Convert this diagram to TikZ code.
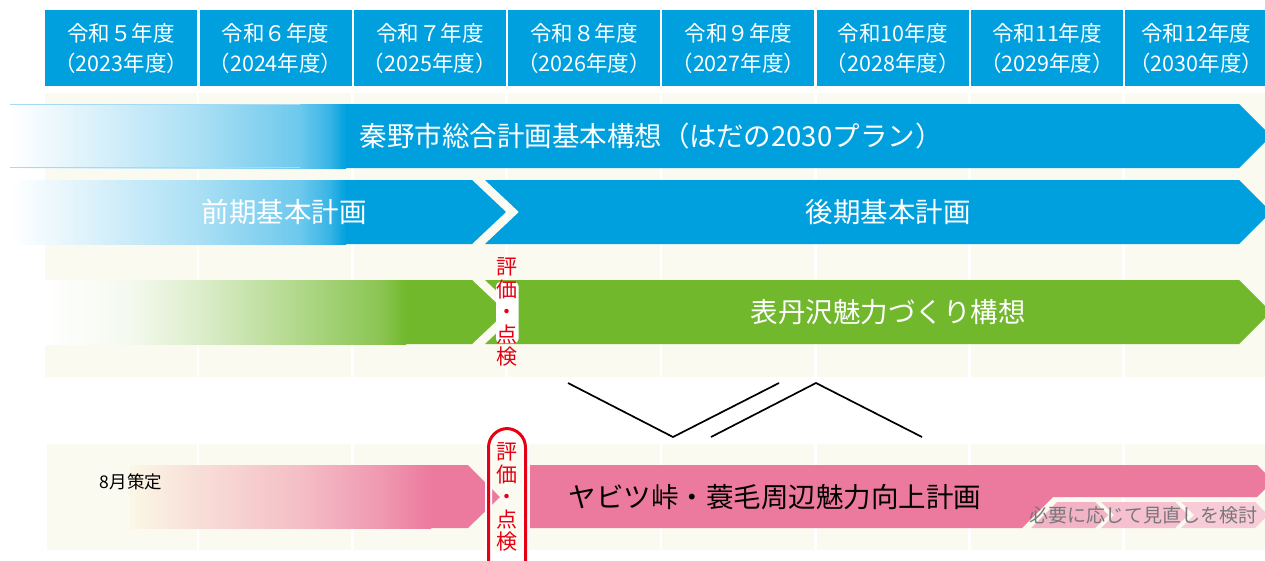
\documentclass[tikz,border=0pt]{standalone}
\usepackage{fontspec}
\setmainfont{Noto Sans CJK JP}
\definecolor{bblue}{HTML}{00A0DF}
\definecolor{lblue}{HTML}{A6D9F2}
\definecolor{ggreen}{HTML}{71B82C}
\definecolor{ppink}{HTML}{EC7A9F}
\definecolor{cream}{HTML}{FAFAF0}
\definecolor{pcream}{HTML}{FBF7E6}
\definecolor{rred}{HTML}{E60012}
\definecolor{segA}{HTML}{F3B3C7}
\definecolor{segB}{HTML}{F6C0D0}
\definecolor{segC}{HTML}{F8CBD8}
\definecolor{gtext}{HTML}{787878}
\pgfdeclarehorizontalshading{blueramp}{100bp}{color(0bp)=(white); color(25bp)=(white); color(32bp)=(bblue!8); color(53bp)=(bblue!33); color(68bp)=(bblue!57); color(72.5bp)=(bblue!78); color(75bp)=(bblue); color(100bp)=(bblue)}
\pgfdeclarehorizontalshading{greenramp}{100bp}{color(0bp)=(white); color(25bp)=(white); color(37bp)=(ggreen!8); color(46.5bp)=(ggreen!25); color(60bp)=(ggreen!55); color(71.5bp)=(ggreen!82); color(75bp)=(ggreen); color(100bp)=(ggreen)}
\pgfdeclarehorizontalshading{pinkramp}{100bp}{color(0bp)=(pcream); color(25bp)=(pcream); color(36.5bp)=(ppink!20!pcream); color(53bp)=(ppink!45!pcream); color(66.5bp)=(ppink!75!pcream); color(75bp)=(ppink); color(100bp)=(ppink)}
\tikzset{
  hdr/.style={fill=bblue, text=white, inner sep=0pt, minimum width=152pt, minimum height=76pt, anchor=north west, align=center, font=\fontsize{21.5}{30}\selectfont},
  bigwhite/.style={text=white, inner sep=0pt, font=\fontsize{27.5}{30}\selectfont},
  bigblack/.style={text=black, inner sep=0pt, font=\fontsize{27.5}{30}\selectfont},
  vlabel/.style={text=rred, inner sep=0pt, align=center, font=\fontsize{21}{22.5}\selectfont},
  smalltext/.style={inner sep=0pt, font=\fontsize{17.5}{20}\selectfont},
  linkline/.style={black, line width=1.7pt},
}
\begin{document}
\begin{tikzpicture}[x=1pt,y=-1pt]
\useasboundingbox (0,0) rectangle (1265,560);
\clip (0,0) rectangle (1265,560);
\fill[white] (0,0) rectangle (1265,560);

% header
\foreach \i/\a/\b in {0/令和５年度/（2023年度）,1/令和６年度/（2024年度）,2/令和７年度/（2025年度）,3/令和８年度/（2026年度）,4/令和９年度/（2027年度）,5/令和10年度/（2028年度）,6/令和11年度/（2029年度）}
  \node[hdr] (h\i) at ({45+154.3*\i},10) {\a\\\b};
\node[hdr, minimum width=142pt] (h7) at ({45+154.3*7},10) {令和12年度\\（2030年度）};

% cream panels
\fill[cream] (45,93) rectangle (1265,377);
\fill[cream] (47,444) rectangle (1265,550);
\foreach \i in {1,...,7} {
  \fill[white] ({45+154.3*\i-2.7},93) rectangle ({45+154.3*\i},377);
  \fill[white] ({45+154.3*\i-2.7},444) rectangle ({45+154.3*\i},550);
}

% row 1
\fill[bblue] (345,104) -- (1239,104) -- (1271,136) -- (1239,168) -- (345,168) -- cycle;
\shade[shading=blueramp] (10,104) rectangle (346,168);
\draw[lblue, line width=1pt] (10,104.5) -- (300,104.5);
\draw[lblue, line width=1pt] (10,167.5) -- (300,167.5);
\node[bigwhite] (plan1) at (651,136) {秦野市総合計画基本構想（はだの2030プラン）};

% row 2
\fill[bblue] (345,180) -- (472,180) -- (506,212) -- (472,244) -- (345,244) -- cycle;
\shade[shading=blueramp] (10,180) rectangle (346,244);
\fill[bblue] (485,180) -- (1239,180) -- (1271,212) -- (1239,244) -- (485,244) -- (519,212) -- cycle;
\node[bigwhite] (zenki) at (284,212) {前期基本計画};
\node[bigwhite] (kouki) at (888,212) {後期基本計画};

% row 3
\fill[ggreen] (405,280) -- (472,280) -- (506,312) -- (472,344) -- (405,344) -- cycle;
\shade[shading=greenramp] (45,280) rectangle (406,344);
\fill[ggreen] (485,280) -- (1239,280) -- (1271,312) -- (1239,344) -- (485,344) -- (519,312) -- cycle;
\node[bigwhite] (omote) at (888,312) {表丹沢魅力づくり構想};
\fill[white, rounded corners=4pt] (496,282) rectangle (518.5,343);
\node[vlabel] (ev1) at (507,312) {評\\価\\・\\点\\検};

% link lines
\coordinate (la1) at (568,383);
\coordinate (la2) at (673,437);
\coordinate (la3) at (779,383);
\coordinate (lb1) at (711,437);
\coordinate (lb2) at (816,383);
\coordinate (lb3) at (922,437);
\draw[linkline] (la1) -- (la2) -- (la3);
\draw[linkline] (lb1) -- (lb2) -- (lb3);

% row 4 (pink)
\fill[ppink] (430,465) -- (468,465) -- (500,497) -- (468,528) -- (430,528) -- cycle;
\shade[shading=pinkramp] (130,465) rectangle (431,528);
\fill[ppink] (530,465) -- (1257,465) -- (1273,481) -- (1257,497) -- (1053,497) -- (1022,528) -- (530,528) -- cycle;
\fill[segA] (1031,528) -- (1057,502) -- (1095,502) -- (1108,515) -- (1095,528) -- cycle;
\fill[segB] (1101,502) -- (1175,502) -- (1188,515) -- (1175,528) -- (1101,528) -- (1114,515) -- cycle;
\fill[segC] (1181,502) -- (1255,502) -- (1268,515) -- (1255,528) -- (1181,528) -- (1194,515) -- cycle;
\node[bigblack] (yabitsu) at (775,497) {ヤビツ峠・蓑毛周辺魅力向上計画};
\node[smalltext, text=black] (aug) at (131,482) {8月策定};
\node[inner sep=0pt, text=gtext, font=\fontsize{19}{20}\selectfont] (rev) at (1143,515) {必要に応じて見直しを検討};

% evaluation box
\draw[white, line width=7pt, rounded corners=19pt] (488.5,428.5) rectangle (525.5,600);
\draw[rred, line width=3pt, rounded corners=19pt] (488.5,428.5) rectangle (525.5,600);
\node[vlabel] (ev2) at (507,497) {評\\価\\・\\点\\検};
\end{tikzpicture}
\end{document}
